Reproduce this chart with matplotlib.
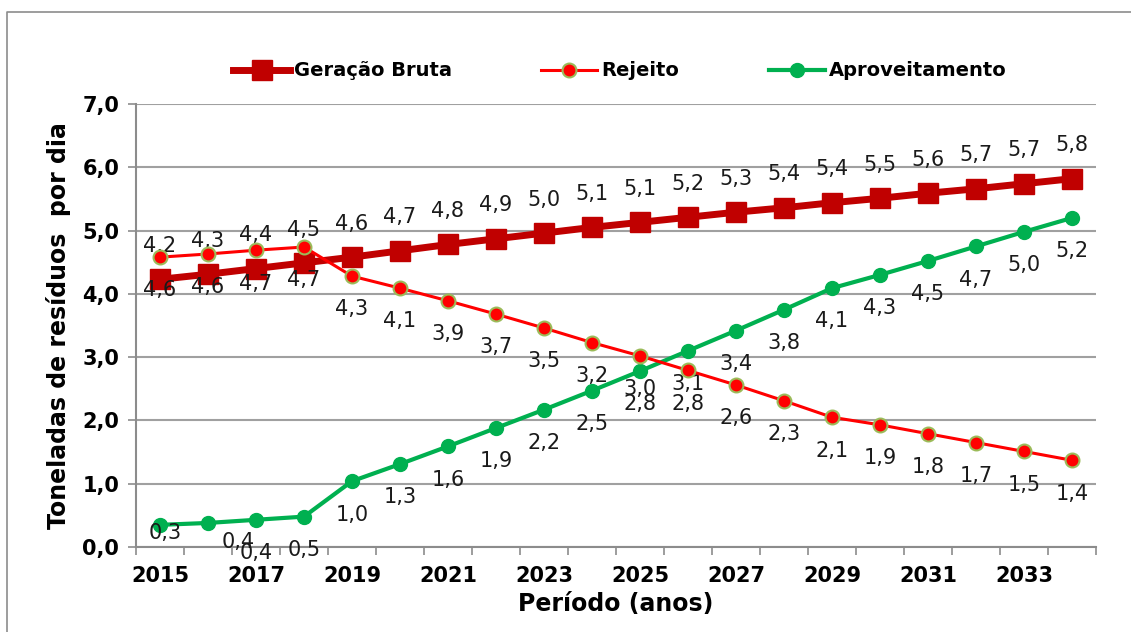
import matplotlib
matplotlib.use("Agg")
import matplotlib.pyplot as plt
from matplotlib.lines import Line2D
from matplotlib.ticker import FixedLocator, FuncFormatter

plt.rcParams['font.family'] = ['Liberation Sans Narrow', 'DejaVu Sans Condensed', 'DejaVu Sans']

anos = list(range(2015, 2035))
geracao = [4.23, 4.31, 4.40, 4.49, 4.58, 4.68, 4.78, 4.87, 4.96, 5.05,
           5.13, 5.21, 5.29, 5.36, 5.44, 5.51, 5.59, 5.66, 5.74, 5.82]
rejeito = [4.58, 4.63, 4.69, 4.74, 4.28, 4.09, 3.89, 3.68, 3.46, 3.23,
           3.02, 2.79, 2.56, 2.31, 2.05, 1.93, 1.79, 1.65, 1.51, 1.37]
aproveit = [0.35, 0.38, 0.43, 0.48, 1.04, 1.31, 1.59, 1.88, 2.17, 2.47,
            2.78, 3.10, 3.42, 3.75, 4.09, 4.30, 4.52, 4.75, 4.98, 5.20]
lbl_ger = [4.2, 4.3, 4.4, 4.5, 4.6, 4.7, 4.8, 4.9, 5.0, 5.1,
           5.1, 5.2, 5.3, 5.4, 5.4, 5.5, 5.6, 5.7, 5.7, 5.8]
lbl_rej = [4.6, 4.6, 4.7, 4.7, 4.3, 4.1, 3.9, 3.7, 3.5, 3.2,
           3.0, 2.8, 2.6, 2.3, 2.1, 1.9, 1.8, 1.7, 1.5, 1.4]
lbl_apr = [0.3, 0.4, 0.4, 0.5, 1.0, 1.3, 1.6, 1.9, 2.2, 2.5,
           2.8, 3.1, 3.4, 3.8, 4.1, 4.3, 4.5, 4.7, 5.0, 5.2]

def virgula(v):
    return ('%.1f' % v).replace('.', ',')

W, H = 1131, 632
fig = plt.figure(figsize=(W / 100, H / 100), dpi=100)
ax = fig.add_axes([136 / W, 1 - 547 / H, (1096 - 136) / W, (547 - 104) / H])

# moldura externa (so esquerda e topo aparecem)
fig.add_artist(Line2D([7 / W, 7 / W, 1.0], [0, 1 - 12 / H, 1 - 12 / H],
                      transform=fig.transFigure, color='#8c8c8c', lw=1.2))

x = list(range(len(anos)))
ax.plot(x, geracao, color='#C00000', lw=5, marker='s', ms=14, mec='#C00000',
        label='Geração Bruta', zorder=3)
ax.plot(x, rejeito, color='#FF0000', lw=2.2, marker='o', ms=10, mfc='#FF0000',
        mec='#9BBB59', mew=1.5, label='Rejeito', zorder=4)
ax.plot(x, aproveit, color='#00B050', lw=3, marker='o', ms=10, mec='#00B050',
        label='Aproveitamento', zorder=3)

lab_kw = dict(textcoords='offset points', ha='center', va='center', fontsize=15, color='#1a1a1a')
for i in x:
    ax.annotate(virgula(lbl_ger[i]), (i, geracao[i]), xytext=(0, 24), **lab_kw)
    ax.annotate(virgula(lbl_rej[i]), (i, rejeito[i]), xytext=(0, -24), **lab_kw)
# rotulos de aproveitamento: alguns deslocados como no original
ajuste = {0: (4, -6), 1: (22, -14)}
for i in x:
    dx, dy = ajuste.get(i, (0, -24))
    ax.annotate(virgula(lbl_apr[i]), (i, aproveit[i]), xytext=(dx, dy), **lab_kw)

ax.set_xlim(-0.5, len(anos) - 0.5)
ax.set_ylim(0, 7)
ax.set_yticks([0, 1, 2, 3, 4, 5, 6, 7])
ax.yaxis.set_major_formatter(FuncFormatter(lambda v, p: virgula(v)))
ax.set_xticks(x[::2])
ax.set_xticklabels([str(a) for a in anos[::2]])
ax.xaxis.set_minor_locator(FixedLocator([i - 0.5 for i in range(len(anos) + 1)]))
ax.tick_params(axis='x', which='major', length=0, pad=14)
ax.tick_params(axis='x', which='minor', length=6, color='#8c8c8c', width=1.2)
ax.tick_params(axis='y', length=6, color='#8c8c8c', width=1.2, pad=6)
for t in ax.get_xticklabels() + ax.get_yticklabels():
    t.set_fontsize(15)
    t.set_fontweight('bold')

ax.grid(axis='y', color='#a0a0a0', lw=1.5)
ax.set_axisbelow(True)
for s in ['top', 'right']:
    ax.spines[s].set_visible(False)
for s in ['left', 'bottom']:
    ax.spines[s].set_color('#8c8c8c')
    ax.spines[s].set_linewidth(1.5)

ax.set_ylabel('Toneladas de resíduos  por dia', fontsize=17, fontweight='bold', labelpad=8)
ax.set_xlabel('Período (anos)', fontsize=17, fontweight='bold', labelpad=4)

fig.legend(loc='center', bbox_to_anchor=(620 / W, 1 - 71 / H), ncol=3, frameon=False,
           prop={'size': 14, 'weight': 'bold'}, handlelength=2.9, columnspacing=4.6,
           handletextpad=0.2)

fig.savefig('out.png', dpi=100)
